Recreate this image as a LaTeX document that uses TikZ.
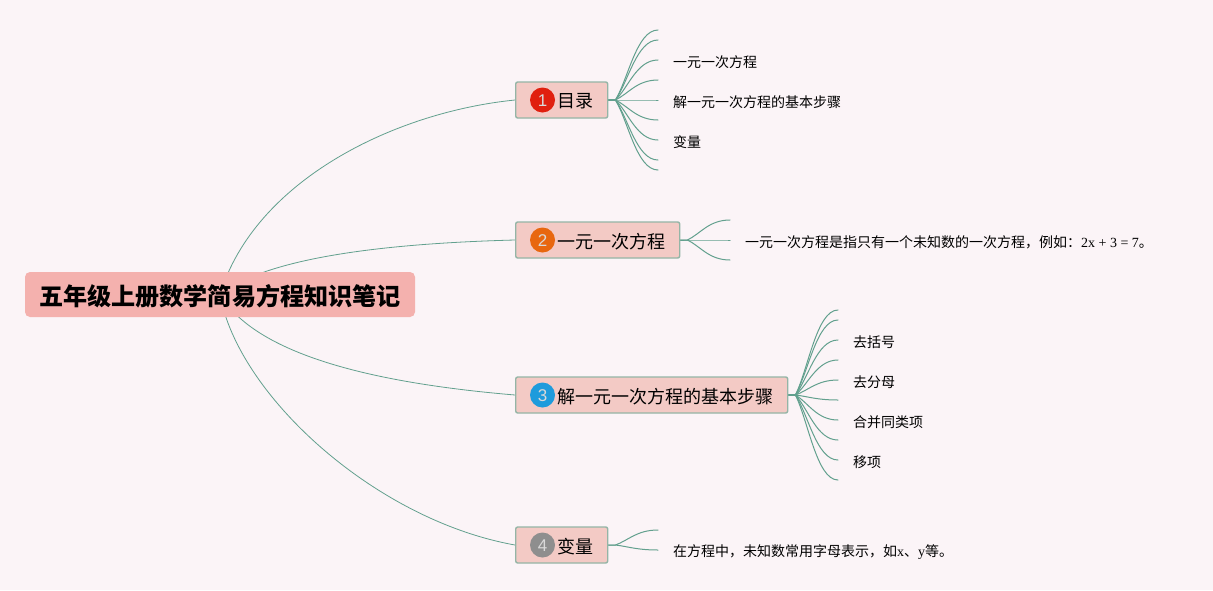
\documentclass[tikz,border=0pt]{standalone}
\usepackage{fontspec}
\setmainfont{Noto Sans CJK SC}
\newfontfamily\latinserif{Liberation Serif}
\newfontfamily\iconfont{Liberation Sans}
\usetikzlibrary{calc}
\definecolor{pagebg}{HTML}{FBF4F7}
\definecolor{rootfill}{HTML}{F4B1AE}
\definecolor{branchfill}{HTML}{F3CAC5}
\definecolor{branchedge}{HTML}{94B5A6}
\definecolor{linkcol}{HTML}{62A08E}
\definecolor{iconA}{HTML}{E0200F}
\definecolor{iconB}{HTML}{E8670F}
\definecolor{iconC}{HTML}{1E9BDC}
\definecolor{iconD}{HTML}{8E8E8E}
\pgfdeclarelayer{edges}
\pgfsetlayers{edges,main}
\tikzset{
  rootnode/.style={fill=rootfill,rounded corners=5pt,inner xsep=14pt,inner ysep=0pt,minimum height=45pt,minimum width=390pt,font=\fontsize{24.1}{26}\selectfont\bfseries,text=black},
  branch/.style={fill=branchfill,draw=branchedge,line width=1.4pt,rounded corners=2pt,inner xsep=15pt,inner ysep=0pt,minimum height=36pt,anchor=west,font=\fontsize{18}{20}\selectfont,text=black},
  icon/.style={circle,minimum size=25pt,inner sep=0pt,font=\iconfont\fontsize{17}{17}\selectfont,text=white!85!black},
  leaf/.style={anchor=west,inner xsep=0pt,inner ysep=0pt,font=\fontsize{14}{16}\selectfont,text=black},
  link/.style={draw=linkcol,line width=0.8pt},
  leaflink/.style={draw=linkcol,line width=1pt,line cap=round}
}
\newcommand{\leafcurve}[2]{%
  \coordinate (lstem) at ($(#1)+(7,0)$);
  \coordinate (lnear) at ($(lstem)!.3!(#2)$);
  \coordinate (lfar) at ($(lstem)!.5!(#2)$);
  \draw[leaflink] (#1) -- (lstem) .. controls (lnear) and (lfar |- #2) .. (#2);}
\newcommand{\lat}[1]{{\latinserif #1}}
\newcommand{\branchtext}[1]{\raisebox{-1.5pt}[\height][\depth]{\hspace*{27pt}#1\hspace*{-1pt}}}
\newcommand{\icondigit}[1]{\raisebox{-1pt}[\height][\depth]{#1}}
\begin{document}
\begin{tikzpicture}[x=1pt,y=-1pt]
\useasboundingbox (0,0) rectangle (1213,590);
\begin{pgfonlayer}{edges}
\fill[pagebg] (0,0) rectangle (1213,590);
\end{pgfonlayer}

\node[rootnode] (root) at (220,294.5) {\raisebox{-2pt}[\height][\depth]{五年级上册数学简易方程知识笔记}};

\node[branch] (b1) at (515,100) {\branchtext{目录}};
\node[branch] (b2) at (515,240) {\branchtext{一元一次方程}};
\node[branch] (b3) at (515,395) {\branchtext{解一元一次方程的基本步骤}};
\node[branch] (b4) at (515,545) {\branchtext{变量}};

\node[icon,fill=iconA] (i1) at (542.5,100) {\icondigit{1}};
\node[icon,fill=iconB] (i2) at (542.5,240) {\icondigit{2}};
\node[icon,fill=iconC] (i3) at (542.5,395) {\icondigit{3}};
\node[icon,fill=iconD] (i4) at (542.5,545) {\icondigit{4}};

% branch 1 leaves
\coordinate (a1) at (658,30);
\coordinate (a2) at (658,40);
\coordinate (a3) at (658,60);
\coordinate (a4) at (658,80);
\coordinate (a5) at (658,100);
\coordinate (a6) at (658,120);
\coordinate (a7) at (658,140);
\coordinate (a8) at (658,160);
\coordinate (a9) at (658,170);
\node[leaf] (ta3) at (673,62) {一元一次方程};
\node[leaf] (ta5) at (673,102) {解一元一次方程的基本步骤};
\node[leaf] (ta7) at (673,142) {变量};

% branch 2 leaves
\coordinate (c1) at (730,220);
\coordinate (c2) at (730,240);
\coordinate (c3) at (730,260);
\node[leaf] (tc2) at (745,242) {一元一次方程是指只有一个未知数的一次方程，例如：\lat{2x + 3 = 7}。};

% branch 3 leaves
\coordinate (d1) at (838,310);
\coordinate (d2) at (838,320);
\coordinate (d3) at (838,340);
\coordinate (d4) at (838,360);
\coordinate (d5) at (838,380);
\coordinate (d6) at (838,400);
\coordinate (d7) at (838,420);
\coordinate (d8) at (838,440);
\coordinate (d9) at (838,460);
\coordinate (d10) at (838,480);
\node[leaf] (td3) at (853,342) {去括号};
\node[leaf] (td5) at (853,382) {去分母};
\node[leaf] (td7) at (853,422) {合并同类项};
\node[leaf] (td9) at (853,462) {移项};

% branch 4 leaves
\coordinate (e1) at (658,530);
\coordinate (e2) at (658,550);
\node[leaf] (te2) at (673,552) {在方程中，未知数常用字母表示，如\lat{x}、\lat{y}等。};

\begin{pgfonlayer}{edges}
\draw[link] (root.center) .. controls (255,180) and (395,112) .. (b1.west);
\draw[link] (root.center) .. controls (270,255) and (400,243) .. (b2.west);
\draw[link] (root.center) .. controls (258,358) and (385,384) .. (b3.west);
\draw[link] (root.center) .. controls (238,395) and (375,520) .. (b4.west);
\foreach \t in {a1,a2,a3,a4,a5,a6,a7,a8,a9}{\leafcurve{b1.east}{\t}}
\foreach \t in {c1,c2,c3}{\leafcurve{b2.east}{\t}}
\foreach \t in {d1,d2,d3,d4,d5,d6,d7,d8,d9,d10}{\leafcurve{b3.east}{\t}}
\foreach \t in {e1,e2}{\leafcurve{b4.east}{\t}}
\end{pgfonlayer}
\end{tikzpicture}
\end{document}
